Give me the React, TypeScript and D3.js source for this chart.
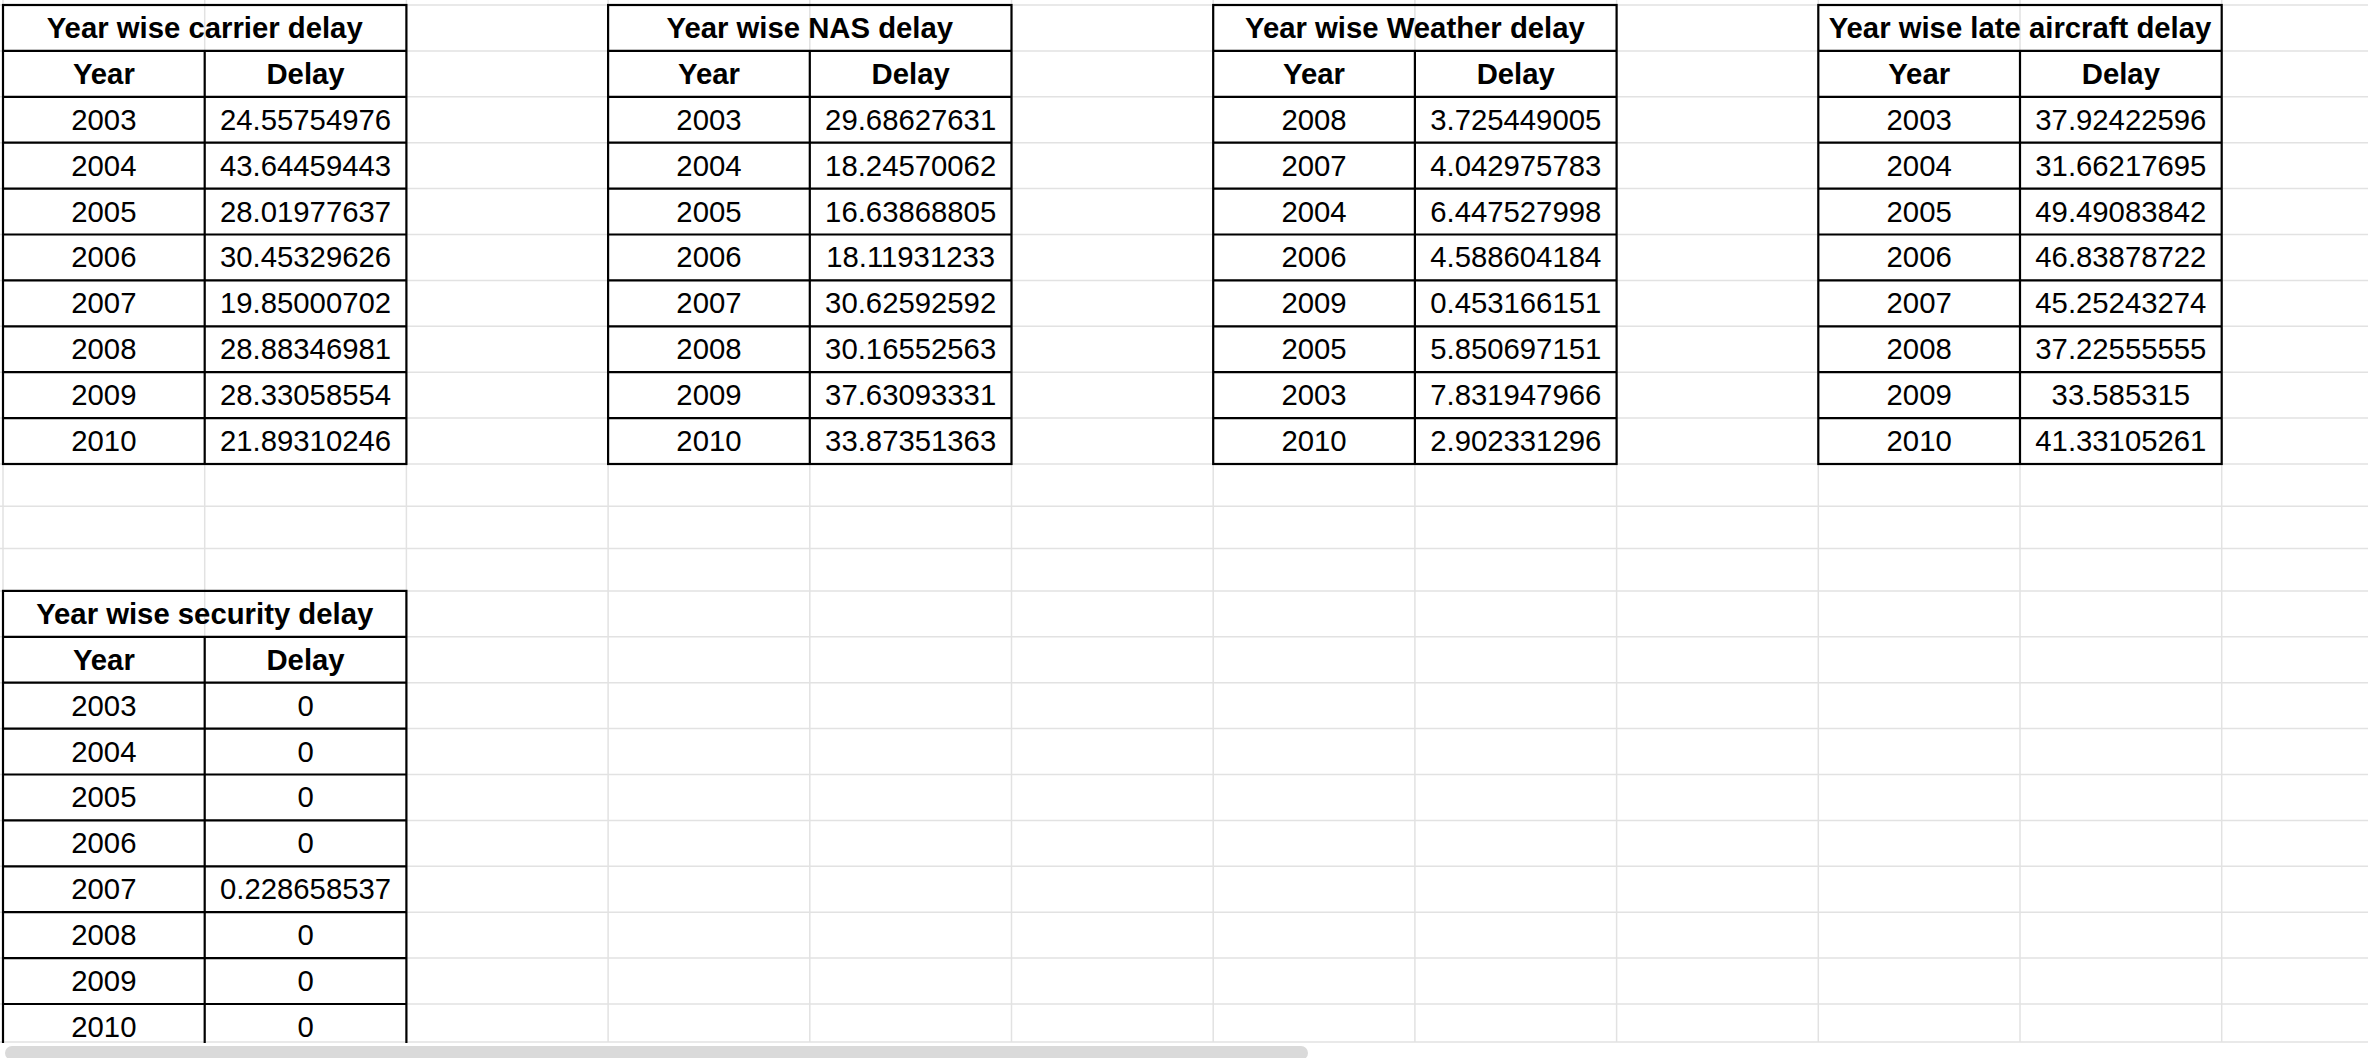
import React from "react";
import * as d3 from "d3";

const years = ["2003", "2004", "2005", "2006", "2007", "2008", "2009", "2010"];
const weatherYears = ["2008", "2007", "2004", "2006", "2009", "2005", "2003", "2010"];

const carrierDelay = ["24.55754976", "43.64459443", "28.01977637", "30.45329626", "19.85000702", "28.88346981", "28.33058554", "21.89310246"];
const nasDelay = ["29.68627631", "18.24570062", "16.63868805", "18.11931233", "30.62592592", "30.16552563", "37.63093331", "33.87351363"];
const weatherDelay = ["3.725449005", "4.042975783", "6.447527998", "4.588604184", "0.453166151", "5.850697151", "7.831947966", "2.902331296"];
const lateAircraftDelay = ["37.92422596", "31.66217695", "49.49083842", "46.83878722", "45.25243274", "37.22555555", "33.585315", "41.33105261"];
const securityDelay = ["0", "0", "0", "0", "0.228658537", "0", "0", "0"];

const tables = [
  { title: "Year wise carrier delay", years, values: carrierDelay, col: 0, row: 0 },
  { title: "Year wise NAS delay", years, values: nasDelay, col: 3, row: 0 },
  { title: "Year wise Weather delay", years: weatherYears, values: weatherDelay, col: 6, row: 0 },
  { title: "Year wise late aircraft delay", years, values: lateAircraftDelay, col: 9, row: 0 },
  { title: "Year wise security delay", years, values: securityDelay, col: 0, row: 13 },
];

const W = 2368, H = 1058;
const gridBottom = 1042;
const x = d3.scaleLinear().domain([0, 1]).range([3, 204.7]);
const nCols = 12, nRows = 23;
// row heights: filled rows taller than the default empty rows
const rowH = d3.range(nRows).map(r => (r >= 10 && r < 13 ? 42.3 : 45.9));
const rowTop = [5, ...d3.cumsum(rowH).map(v => 5 + v)];
const y = (r: number) => {
  const i = Math.floor(r);
  return rowTop[i] + (r - i) * (rowH[i] ?? 45.9);
};
const font = "'Liberation Sans', Arial, sans-serif";

export default function App() {
  return (
    <svg width={W} height={H} style={{ position: "absolute", left: 0, top: 0, background: "#fff" }}>
      <defs>
        <clipPath id="g"><rect x={0} y={0} width={W} height={gridBottom + 1} /></clipPath>
      </defs>
      <g stroke="#e2e2e2" strokeWidth={1.5}>
        {d3.range(nCols + 1).map(c => <line key={"c" + c} x1={x(c)} x2={x(c)} y1={0} y2={gridBottom} />)}
        {d3.range(nRows).map(r => <line key={"r" + r} x1={0} x2={W} y1={y(r)} y2={y(r)} />)}
        <line x1={0} x2={W} y1={gridBottom} y2={gridBottom} />
      </g>
      <g clipPath="url(#g)">
        {tables.map(t => {
          const x0 = x(t.col), x1 = x(t.col + 1), x2 = x(t.col + 2);
          const rows = t.years.length + 2;
          return (
            <g key={t.title} fontFamily={font} fontSize={29.3} fill="#000">
              <rect x={x0} y={y(t.row)} width={x2 - x0} height={y(t.row + rows) - y(t.row)} fill="none" stroke="#000" strokeWidth={2.2} />
              {d3.range(1, rows).map(r => (
                <line key={r} x1={x0} x2={x2} y1={y(t.row + r)} y2={y(t.row + r)} stroke="#000" strokeWidth={2.2} />
              ))}
              <line x1={x1} x2={x1} y1={y(t.row + 1)} y2={y(t.row + rows)} stroke="#000" strokeWidth={2.2} />
              <text x={(x0 + x2) / 2} y={y(t.row + 0.5) + 10} textAnchor="middle" fontWeight="bold">{t.title}</text>
              <text x={(x0 + x1) / 2} y={y(t.row + 1.5) + 10} textAnchor="middle" fontWeight="bold">Year</text>
              <text x={(x1 + x2) / 2} y={y(t.row + 1.5) + 10} textAnchor="middle" fontWeight="bold">Delay</text>
              {t.years.map((yr, i) => (
                <g key={i}>
                  <text x={(x0 + x1) / 2} y={y(t.row + 2.5 + i) + 10} textAnchor="middle">{yr}</text>
                  <text x={(x1 + x2) / 2} y={y(t.row + 2.5 + i) + 10} textAnchor="middle">{t.values[i]}</text>
                </g>
              ))}
            </g>
          );
        })}
      </g>
      <rect x={0} y={gridBottom + 1} width={W} height={H - gridBottom} fill="#fff" />
      <rect x={5} y={1046} width={1303} height={14} rx={7} fill="#dadada" />
    </svg>
  );
}
